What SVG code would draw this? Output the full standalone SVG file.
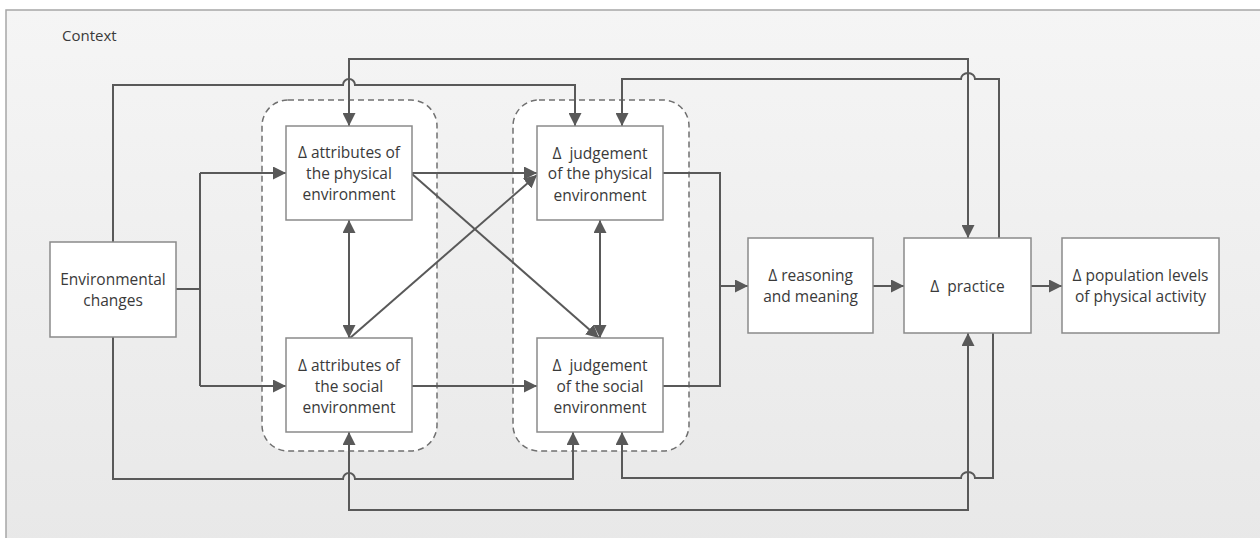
<svg xmlns="http://www.w3.org/2000/svg" width="1260" height="538" viewBox="0 0 1260 538">
<defs>
<linearGradient id="bg" x1="0" y1="0" x2="0" y2="1">
<stop offset="0" stop-color="#f5f5f5"/>
<stop offset="1" stop-color="#e8e8e8"/>
</linearGradient>
<marker id="ah" markerUnits="userSpaceOnUse" markerWidth="14" markerHeight="13" refX="13" refY="6.5" orient="auto-start-reverse">
<path d="M0,0 L13,6.5 L0,13 z" fill="#595959"/>
</marker>
<style>
.ctx{fill:url(#bg);stroke:#a6a6a6;stroke-width:1.5}
.grp{fill:#ffffff;stroke:#707070;stroke-width:1.5;stroke-dasharray:6,4}
.box{fill:#ffffff;stroke:#8a8a8a;stroke-width:1.5}
.t{font-family:"Open Sans","Liberation Sans",sans-serif;font-size:15.5px;fill:#3a3a3a;text-anchor:middle}
.lbl{font-family:"Open Sans","Liberation Sans",sans-serif;font-size:15px;fill:#3a3a3a}
.c{fill:none;stroke:#595959;stroke-width:2}
.a{marker-end:url(#ah)}
.b{marker-start:url(#ah);marker-end:url(#ah)}
</style>
</defs>
<rect width="1260" height="538" fill="#ffffff"/>
<rect class="ctx" x="6" y="10" width="1270" height="540"/>
<text class="lbl" x="62" y="41">Context</text>
<g id="group-attributes">
<rect class="grp" x="262" y="100" width="175" height="351" rx="26"/>
</g>
<g id="group-judgement">
<rect class="grp" x="513" y="100" width="176" height="351" rx="26"/>
</g>
<g id="connectors">
<path class="c" d="M176,289 H200 M200,173 V386"/>
<path class="c a" d="M200,173 H286"/>
<path class="c a" d="M200,386 H286"/>
<path class="c a" d="M113,242 V85 H343 a6,6 0 0 1 12,0 H575 V126"/>
<path class="c b" d="M349,126 V59 H968 V238"/>
<path class="c a" d="M999,238 V79 H975 a7,6 0 0 0 -14,0 H622 V126"/>
<path class="c b" d="M349,220 V338"/>
<path class="c b" d="M600,220 V338"/>
<path class="c a" d="M412,173 H537"/>
<path class="c a" d="M412,174 L599,338"/>
<path class="c a" d="M350,338 L537,175"/>
<path class="c a" d="M412,386 H537"/>
<path class="c" d="M663,173 H720 V386 H663"/>
<path class="c a" d="M720,286 H748"/>
<path class="c a" d="M873,286 H904"/>
<path class="c a" d="M1031,286 H1062"/>
<path class="c a" d="M113,337 V479 H343 a6,6 0 0 1 12,0 H573 V432"/>
<path class="c a" d="M993,333 V478 H975 a7,6 0 0 0 -14,0 H622 V432"/>
<path class="c b" d="M349,432 V510 H968 V333"/>
</g>
<g id="node-env">
<rect class="box" x="50" y="242" width="126" height="95"/>
<text class="t" x="113" y="284.5">Environmental</text>
<text class="t" x="113" y="305.5">changes</text>
</g>
<g id="node-attr-phys">
<rect class="box" x="286" y="126" width="126" height="94"/>
<text class="t" x="349" y="157.5">Δ attributes of</text>
<text class="t" x="349" y="178.5">the physical</text>
<text class="t" x="349" y="199.5">environment</text>
</g>
<g id="node-attr-soc">
<rect class="box" x="286" y="338" width="126" height="94"/>
<text class="t" x="349" y="370.5">Δ attributes of</text>
<text class="t" x="349" y="391.5">the social</text>
<text class="t" x="349" y="412.5">environment</text>
</g>
<g id="node-judg-phys">
<rect class="box" x="537" y="126" width="126" height="94"/>
<text class="t" x="600" y="158.5">Δ&#160; judgement</text>
<text class="t" x="600" y="179">of the physical</text>
<text class="t" x="600" y="200.5">environment</text>
</g>
<g id="node-judg-soc">
<rect class="box" x="537" y="338" width="126" height="94"/>
<text class="t" x="600" y="370.5">Δ&#160; judgement</text>
<text class="t" x="600" y="391.5">of the social</text>
<text class="t" x="600" y="412.5">environment</text>
</g>
<g id="node-reasoning">
<rect class="box" x="748" y="238" width="125" height="95"/>
<text class="t" x="810.5" y="280.5">Δ reasoning</text>
<text class="t" x="810.5" y="301.5">and meaning</text>
</g>
<g id="node-practice">
<rect class="box" x="904" y="238" width="127" height="95"/>
<text class="t" x="967.5" y="291.5">Δ&#160; practice</text>
</g>
<g id="node-population">
<rect class="box" x="1062" y="238" width="157" height="95"/>
<text class="t" x="1140.5" y="280.5">Δ population levels</text>
<text class="t" x="1140.5" y="301.5">of physical activity</text>
</g>
</svg>
